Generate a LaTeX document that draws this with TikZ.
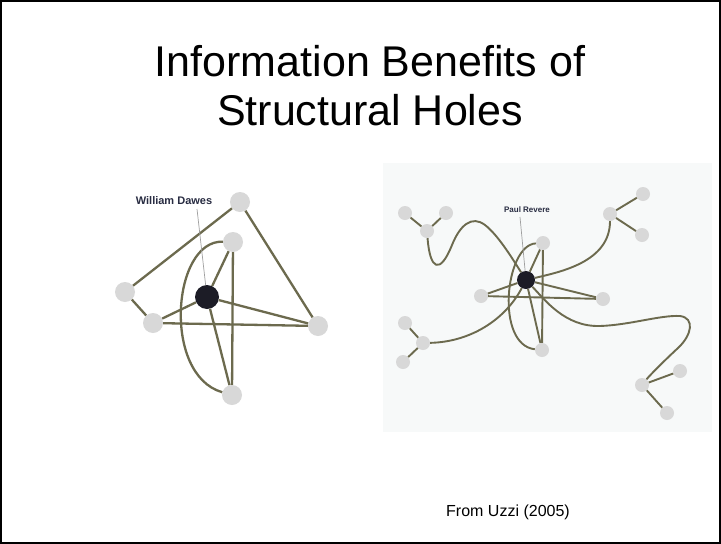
\documentclass[tikz,border=0pt]{standalone}
\usepackage{fontspec}
\setmainfont{Liberation Sans}
\definecolor{edgecol}{RGB}{108,106,78}
\definecolor{nodegrey}{RGB}{216,216,216}
\definecolor{hubcol}{RGB}{28,28,38}
\definecolor{labcol}{RGB}{40,44,66}
\definecolor{panelbg}{RGB}{247,249,249}
\begin{document}
\begin{tikzpicture}[x=1pt,y=-1pt,
  lnkL/.style={draw=edgecol,line width=2.3pt},
  lnkR/.style={draw=edgecol,line width=1.9pt},
  gnodeL/.style={circle,fill=nodegrey,inner sep=0pt,minimum size=20pt},
  bnodeL/.style={circle,fill=hubcol,inner sep=0pt,minimum size=24pt},
  gnodeR/.style={circle,fill=nodegrey,inner sep=0pt,minimum size=14pt},
  bnodeR/.style={circle,fill=hubcol,inner sep=0pt,minimum size=18pt},
  pointer/.style={draw=gray!75,line width=0.7pt},
  titletext/.style={font=\fontsize{43}{50}\selectfont,anchor=base,inner sep=0pt},
  captext/.style={font=\fontsize{16}{19}\selectfont,anchor=base,inner sep=0pt},
  namelab/.style={font=\bfseries,text=labcol,inner sep=0pt}]
\useasboundingbox (0,0) rectangle (721,544);
\fill[white] (0,0) rectangle (721,544);
\fill[panelbg] (383,163) rectangle (712,432);
\draw[black,line width=2pt] (1,1) rectangle (720,543);

% titles
\node[titletext] (t1) at (370,76) {Information Benefits of};
\node[titletext] (t2) at (370,125) {Structural Holes};
\node[captext] (cap) at (508,516) {From Uzzi (2005)};

% ---------- left network ----------
\node[gnodeL] (A) at (240,202) {};
\node[gnodeL] (B) at (233,242) {};
\node[gnodeL] (C) at (125,292) {};
\node[gnodeL] (D) at (153,323) {};
\node[gnodeL] (E) at (318,326) {};
\node[gnodeL] (F) at (232,395) {};
\node[bnodeL] (G) at (207,297) {};
\node[namelab,font=\fontsize{11}{13}\selectfont\bfseries] (wd) at (174,201) {William Dawes};
\coordinate (wdtip) at (197,209);

\draw[lnkL] (A) -- (C);
\draw[lnkL] (C) -- (D);
\draw[lnkL] (D) -- (E);
\draw[lnkL] (A) -- (E);
\draw[lnkL] (B) -- (F);
\draw[lnkL] (G) -- (B);
\draw[lnkL] (G) -- (D);
\draw[lnkL] (G) -- (E);
\draw[lnkL] (G) -- (F);
\draw[lnkL] (B) .. controls (172,240) and (162,375) .. (F);
\draw[pointer] (wdtip) -- (G);

% ---------- right network ----------
\node[gnodeR] (Q) at (543,243) {};
\node[gnodeR] (R) at (481,296) {};
\node[gnodeR] (S) at (603,299) {};
\node[gnodeR] (T) at (542,350) {};
\node[bnodeR] (P) at (526,280) {};
\node[gnodeR] (U1) at (427,231) {};
\node[gnodeR] (U1a) at (405,213) {};
\node[gnodeR] (U1b) at (446,213) {};
\node[gnodeR] (U2) at (610,214) {};
\node[gnodeR] (U2a) at (643,194) {};
\node[gnodeR] (U2b) at (642,235) {};
\node[gnodeR] (U3) at (423,343) {};
\node[gnodeR] (U3a) at (405,323) {};
\node[gnodeR] (U3b) at (403,362) {};
\node[gnodeR] (U4) at (642,385) {};
\node[gnodeR] (U4a) at (680,371) {};
\node[gnodeR] (U4b) at (667,413) {};
\node[namelab,font=\fontsize{8}{10}\selectfont\bfseries] (pr) at (527,210) {Paul Revere};
\coordinate (prtip) at (520,217);

\draw[lnkR] (R) -- (S);
\draw[lnkR] (Q) -- (T);
\draw[lnkR] (P) -- (Q);
\draw[lnkR] (P) -- (R);
\draw[lnkR] (P) -- (S);
\draw[lnkR] (P) -- (T);
\draw[lnkR] (Q) .. controls (505,245) and (495,345) .. (T);
\draw[lnkR] (U1) .. controls (430,270) and (440,275) .. (452,245)
   .. controls (460,225) and (472,215) .. (485,225)
   .. controls (498,235) and (512,258) .. (P);
\draw[lnkR] (P) .. controls (545,300) and (565,327) .. (600,326)
   .. controls (630,325) and (660,315) .. (680,316)
   .. controls (695,318) and (692,335) .. (678,348)
   .. controls (665,360) and (650,375) .. (U4);
\draw[lnkR] (P) .. controls (560,272) and (610,262) .. (U2);
\draw[lnkR] (U3) .. controls (470,342) and (505,320) .. (P);
\draw[lnkR] (U1) -- (U1a);
\draw[lnkR] (U1) -- (U1b);
\draw[lnkR] (U2) -- (U2a);
\draw[lnkR] (U2) -- (U2b);
\draw[lnkR] (U3) -- (U3a);
\draw[lnkR] (U3) -- (U3b);
\draw[lnkR] (U4) -- (U4a);
\draw[lnkR] (U4) -- (U4b);
\draw[pointer] (prtip) -- (P);
\end{tikzpicture}
\end{document}
